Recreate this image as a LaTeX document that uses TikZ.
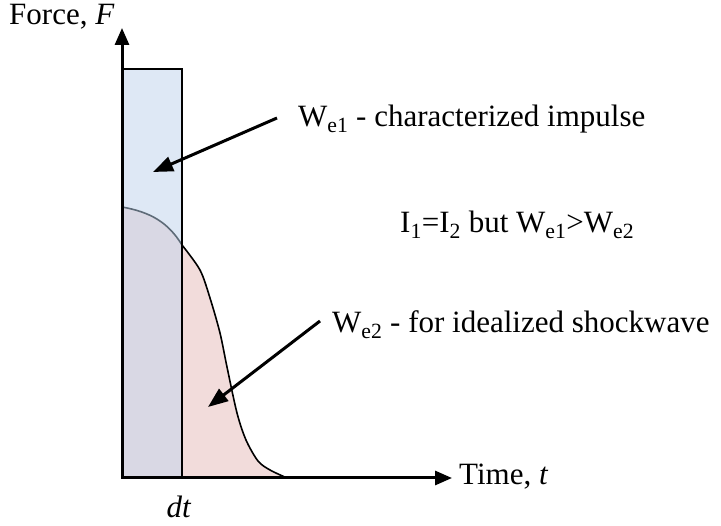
\documentclass[tikz,border=0pt]{standalone}
\usepackage{fontspec}
\setmainfont{Liberation Serif}
\usetikzlibrary{arrows.meta}
\definecolor{bluefill}{HTML}{DEE8F5}
\definecolor{grayfill}{HTML}{D9D8E4}
\definecolor{redfill}{HTML}{F2DCDB}
\definecolor{curvegray}{HTML}{5E6B78}
\tikzset{
  lbl/.style={inner sep=0pt, font=\fontsize{31}{37}\selectfont},
  axisline/.style={line width=3pt, -{Triangle[length=17pt,width=14pt]}},
  pointer/.style={line width=3pt, -{Triangle[length=20pt,width=15pt]}},
}
\begin{document}
\begin{tikzpicture}[x=1pt,y=-1pt]
\useasboundingbox (0,0) rectangle (721,526);
% fills
\fill[bluefill] (122,69) rectangle (182,478);
\fill[grayfill] (122,478) -- (122,207) .. controls (150,212) and (168,222) .. (182,245) -- (182,478) -- cycle;
\fill[redfill] (182,478) -- plot[smooth] coordinates {(182,245) (200,270) (210,298) (220,333) (227,367) (237,413) (246,440) (258,461) (270,470) (287,478)} -- cycle;
% curves
\draw[curvegray, line width=1.6pt] (122,207) .. controls (150,212) and (168,222) .. (182,245);
\draw[line width=1.6pt] plot[smooth] coordinates {(182,245) (200,270) (210,298) (220,333) (227,367) (237,413) (246,440) (258,461) (270,470) (287,478)};
% rectangle
\draw[line width=2.2pt] (122,69) rectangle (182,478);
% axes
\coordinate (O) at (122,478);
\coordinate (ytip) at (122,28);
\coordinate (xtip) at (452,478);
\draw[axisline] (O) -- (ytip);
\draw[axisline] (O) -- (xtip);
% labels
\node[lbl, anchor=base west] (force) at (9,25) {Force, \textit{F}};
\node[lbl, anchor=base west] (time) at (459,485) {Time, \textit{t}};
\node[lbl, anchor=base] (dt) at (179,518) {\textit{dt}};
\node[lbl, anchor=base west] (we1) at (298,127) {W\textsubscript{e1} - characterized impulse};
\node[lbl, anchor=base west] (ii) at (400,233) {I\textsubscript{1}=I\textsubscript{2} but W\textsubscript{e1}>W\textsubscript{e2}};
\node[lbl, anchor=base west] (we2) at (332,333) {W\textsubscript{e2} - for idealized shockwave};
% pointers
\coordinate (p1s) at (277,118);
\coordinate (p1e) at (153,172);
\coordinate (p2s) at (320,321);
\coordinate (p2e) at (208,407);
\draw[pointer] (p1s) -- (p1e);
\draw[pointer] (p2s) -- (p2e);
\end{tikzpicture}
\end{document}
